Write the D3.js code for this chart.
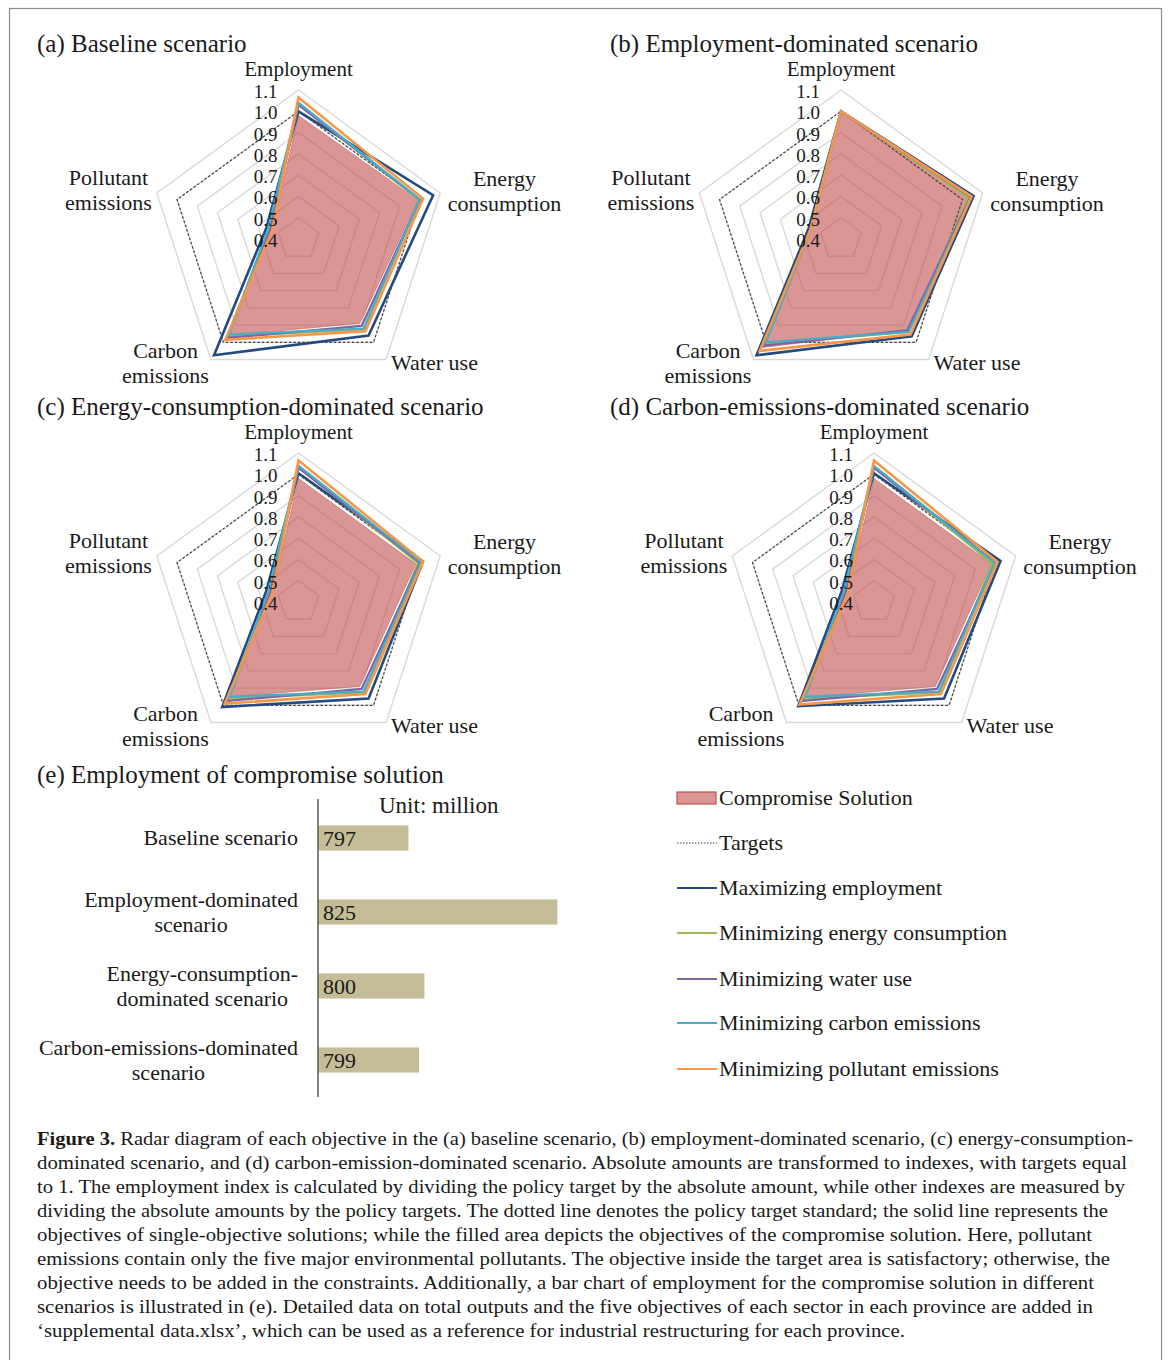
<!DOCTYPE html>
<html>
<head>
<meta charset="utf-8">
<script src="https://cdn.jsdelivr.net/npm/d3@7"></script>
<style>
  html, body { margin: 0; padding: 0; background: #fff; }
  svg { display: block; }
  text { font-family: "Liberation Serif", "Times New Roman", serif; fill: #1a1a1a; }
</style>
</head>
<body>
<svg id="fig" width="1171" height="1360"></svg>
<script>
// ---- Radar axes (clockwise from the top) ----
const axes = ["Employment", "Energy consumption", "Water use", "Carbon emissions", "Pollutant emissions"];
const radarTicks = [0.4, 0.5, 0.6, 0.7, 0.8, 0.9, 1.0, 1.1];

// ---- Series names ----
const seriesNames = ["Compromise Solution", "Targets", "Maximizing employment",
  "Minimizing energy consumption", "Minimizing water use",
  "Minimizing carbon emissions", "Minimizing pollutant emissions"];

// ---- Index values per scenario: [Employment, Energy, Water, Carbon, Pollutant] ----
const targets = [1, 1, 1, 1, 1];

const baselineCompromise  = [0.98, 0.99, 0.89, 0.96, 0.53];
const baselineMaxEmp      = [1.00, 1.065, 0.96, 1.075, 0.56];
const baselineMinEnergy   = [1.035, 0.995, 0.925, 0.965, 0.54];
const baselineMinWater    = [1.03, 1.00, 0.905, 0.975, 0.54];
const baselineMinCarbon   = [1.04, 1.00, 0.92, 0.955, 0.55];
const baselineMinPollut   = [1.065, 1.015, 0.935, 0.985, 0.53];

const empDomCompromise    = [1.00, 1.04, 0.93, 1.03, 0.55];
const empDomMaxEmp        = [1.00, 1.055, 0.965, 1.075, 0.56];
const empDomMinEnergy     = [1.00, 1.03, 0.94, 1.01, 0.55];
const empDomMinWater      = [1.00, 1.04, 0.93, 1.02, 0.55];
const empDomMinCarbon     = [1.00, 1.045, 0.94, 1.00, 0.55];
const empDomMinPollut     = [1.00, 1.045, 0.955, 1.05, 0.55];

const energyDomCompromise = [0.98, 0.98, 0.89, 0.95, 0.53];
const energyDomMaxEmp     = [1.005, 1.015, 0.96, 1.01, 0.56];
const energyDomMinEnergy  = [1.035, 0.99, 0.925, 0.96, 0.54];
const energyDomMinWater   = [1.03, 1.00, 0.905, 0.975, 0.54];
const energyDomMinCarbon  = [1.04, 1.005, 0.92, 0.95, 0.55];
const energyDomMinPollut  = [1.065, 1.015, 0.935, 0.99, 0.53];

const carbonDomCompromise = [0.98, 0.98, 0.89, 0.955, 0.53];
const carbonDomMaxEmp     = [1.005, 1.025, 0.96, 1.005, 0.56];
const carbonDomMinEnergy  = [1.035, 0.985, 0.925, 0.96, 0.54];
const carbonDomMinWater   = [1.03, 1.00, 0.905, 0.975, 0.54];
const carbonDomMinCarbon  = [1.04, 0.995, 0.92, 0.95, 0.55];
const carbonDomMinPollut  = [1.065, 1.01, 0.935, 0.995, 0.53];

const panelTitles = ["(a) Baseline scenario", "(b) Employment-dominated scenario",
  "(c) Energy-consumption-dominated scenario", "(d) Carbon-emissions-dominated  scenario"];

// ---- Bar chart (e) ----
const barCategories = ["Baseline scenario", "Employment-dominated scenario",
  "Energy-consumption-dominated scenario", "Carbon-emissions-dominated scenario"];
const barLabelLines = [["Baseline scenario"], ["Employment-dominated", "scenario"],
  ["Energy-consumption-", "dominated scenario"], ["Carbon-emissions-dominated", "scenario"]];
const barValues = [797, 825, 800, 799];
const barDomain = [780, 830];

// ---- Caption ----
const captionLines = [
  "Radar diagram of each objective in the (a) baseline scenario, (b) employment-dominated scenario, (c) energy-consumption-",
  "dominated scenario, and (d) carbon-emission-dominated scenario. Absolute amounts are transformed to indexes, with targets equal",
  "to 1. The employment index is calculated by dividing the policy target by the absolute amount, while other indexes are measured by",
  "dividing the absolute amounts by the policy targets. The dotted line denotes the policy target standard; the solid line represents the",
  "objectives of single-objective solutions; while the filled area depicts the objectives of the compromise solution. Here, pollutant",
  "emissions contain only the five major environmental pollutants. The objective inside the target area is satisfactory; otherwise, the",
  "objective needs to be added in the constraints. Additionally, a bar chart of employment for the compromise solution in different",
  "scenarios is illustrated in (e). Detailed data on total outputs and the five objectives of each sector in each province are added in",
  "\u2018supplemental data.xlsx\u2019, which can be used as a reference for industrial restructuring for each province."
];

// ================= drawing =================
const svg = d3.select("#fig");
const colors = {
  fill: "#C0504D", target: "#404040", maxEmp: "#254A80", minEnergy: "#9BBB59",
  minWater: "#8064A2", minCarbon: "#4BACC6", minPollut: "#F79646"
};

// outer frame
svg.append("rect").attr("x", 9.5).attr("y", 8.5).attr("width", 1152).attr("height", 1360)
  .attr("fill", "none").attr("stroke", "#8c8c8c").attr("stroke-width", 1.2);

const panels = [
  { cx: 298.5, cy: 239, title: panelTitles[0], tx: 37, ty: 51.5,
    data: [baselineCompromise, targets, baselineMaxEmp, baselineMinEnergy, baselineMinWater, baselineMinCarbon, baselineMinPollut] },
  { cx: 841, cy: 239, title: panelTitles[1], tx: 610, ty: 51.5,
    data: [empDomCompromise, targets, empDomMaxEmp, empDomMinEnergy, empDomMinWater, empDomMinCarbon, empDomMinPollut] },
  { cx: 298.5, cy: 602, title: panelTitles[2], tx: 37, ty: 414.5,
    data: [energyDomCompromise, targets, energyDomMaxEmp, energyDomMinEnergy, energyDomMinWater, energyDomMinCarbon, energyDomMinPollut] },
  { cx: 874, cy: 602, title: panelTitles[3], tx: 610, ty: 414.5,
    data: [carbonDomCompromise, targets, carbonDomMaxEmp, carbonDomMinEnergy, carbonDomMinWater, carbonDomMinCarbon, carbonDomMinPollut] }
];

const R = 149;
const rScale = d3.scaleLinear().domain([0.4, 1.1]).range([0, R]);
const angle = d3.scaleLinear().domain([0, axes.length]).range([0, 2 * Math.PI]);
const radial = d3.lineRadial()
  .angle((d, i) => angle(i))
  .radius(d => rScale(d))
  .curve(d3.curveLinearClosed);

const lineStyles = [
  null,
  { color: colors.target, width: 1.2, dash: "2.5,2" },
  { color: colors.maxEmp, width: 2.6 },
  { color: colors.minEnergy, width: 2.3 },
  { color: colors.minWater, width: 2.3 },
  { color: colors.minCarbon, width: 2.3 },
  { color: colors.minPollut, width: 2.6 }
];

// axis label placement relative to the centre (line baselines)
const axisLabelPos = [
  { dx: 0, dy: -163, size: 21, lines: ["Employment"] },
  { dx: 206, dy: -53, size: 22, lines: ["Energy", "consumption"] },
  { dx: 136, dy: 131, size: 22, lines: ["Water use"] },
  { dx: -133, dy: 119, size: 22, lines: ["Carbon", "emissions"] },
  { dx: -190, dy: -54, size: 22, lines: ["Pollutant", "emissions"] }
];

panels.forEach(p => {
  svg.append("text").attr("x", p.tx).attr("y", p.ty)
    .style("font-size", "25px").text(p.title);

  const g = svg.append("g").attr("transform", `translate(${p.cx},${p.cy})`);

  // grid pentagons
  g.selectAll("path.grid").data(radarTicks.slice(1)).join("path")
    .attr("class", "grid")
    .attr("d", v => radial(axes.map(() => v)))
    .attr("fill", "none").attr("stroke", "#d9d9d9").attr("stroke-width", 1.4);

  // compromise solution area
  g.append("path").attr("d", radial(p.data[0]))
    .attr("fill", colors.fill).attr("fill-opacity", 0.6)
    .attr("stroke", colors.fill).attr("stroke-opacity", 0.5).attr("stroke-width", 1);

  // targets and single-objective lines
  p.data.slice(1).forEach((vals, k) => {
    const st = lineStyles[k + 1];
    g.append("path").attr("d", radial(vals))
      .attr("fill", "none").attr("stroke", st.color)
      .attr("stroke-width", st.width)
      .attr("stroke-dasharray", st.dash || null)
      .attr("stroke-linejoin", "miter");
  });

  // value axis labels along the employment spoke
  g.selectAll("text.tick").data(radarTicks).join("text")
    .attr("class", "tick")
    .attr("x", -21).attr("y", v => -rScale(v) + 8)
    .attr("text-anchor", "end")
    .style("font-size", "19px")
    .text(v => d3.format(".1f")(v));

  // category labels
  axisLabelPos.forEach(a => {
    const t = g.append("text").attr("text-anchor", "middle").style("font-size", a.size + "px");
    a.lines.forEach((ln, j) => {
      t.append("tspan").attr("x", a.dx).attr("y", a.dy + j * 24.5).text(ln);
    });
  });
});

// ---------- (e) bar chart ----------
svg.append("text").attr("x", 37).attr("y", 783).style("font-size", "25px")
  .text("(e) Employment of compromise solution");

const xBar = d3.scaleLinear().domain(barDomain).range([318, 584]);
const yBar = d3.scaleBand().domain(barCategories).range([801, 1097])
  .paddingInner(0.66).paddingOuter(0.33);

svg.selectAll("rect.bar").data(barValues).join("rect")
  .attr("class", "bar")
  .attr("x", xBar(barDomain[0]))
  .attr("y", (d, i) => yBar(barCategories[i]))
  .attr("width", d => xBar(d) - xBar(barDomain[0]))
  .attr("height", yBar.bandwidth())
  .attr("fill", "#C4BD97");

svg.append("line").attr("x1", 318).attr("x2", 318).attr("y1", 799).attr("y2", 1097)
  .attr("stroke", "#595959").attr("stroke-width", 1.5);

svg.selectAll("text.barval").data(barValues).join("text")
  .attr("class", "barval")
  .attr("x", xBar(barDomain[0]) + 5)
  .attr("y", (d, i) => yBar(barCategories[i]) + yBar.bandwidth() / 2 + 8)
  .style("font-size", "22px")
  .text(d => d);

svg.append("text").attr("x", 379).attr("y", 813).style("font-size", "23px").text("Unit: million");

barLabelLines.forEach((lines, i) => {
  const cyBand = yBar(barCategories[i]) + yBar.bandwidth() / 2;
  const t = svg.append("text").attr("text-anchor", "middle").style("font-size", "22px");
  const top = cyBand - (lines.length - 1) * 12.5 + 7;
  const spans = lines.map((ln, j) => t.append("tspan").attr("y", top + j * 25).text(ln));
  const w = d3.max(spans, s => s.node().getComputedTextLength());
  spans.forEach(s => s.attr("x", 298 - w / 2));
});

// ---------- legend ----------
const legendRows = [798, 843, 888, 933, 979, 1023, 1069];
const legendKeys = [null, colors.target, colors.maxEmp, colors.minEnergy, colors.minWater, colors.minCarbon, colors.minPollut];
seriesNames.forEach((name, i) => {
  const y = legendRows[i];
  if (i === 0) {
    svg.append("rect").attr("x", 677).attr("y", y - 6).attr("width", 39).attr("height", 12)
      .attr("fill", colors.fill).attr("fill-opacity", 0.6)
      .attr("stroke", colors.fill).attr("stroke-width", 1.2);
  } else {
    svg.append("line").attr("x1", 677).attr("x2", 717).attr("y1", y).attr("y2", y)
      .attr("stroke", legendKeys[i])
      .attr("stroke-width", i === 1 ? 1.1 : 2)
      .attr("stroke-dasharray", i === 1 ? "1.5,1.5" : null);
  }
  svg.append("text").attr("x", 719).attr("y", y + 7).style("font-size", "22px").text(name);
});

// ---------- caption ----------
const captionEnds = [1133, 1127, 1125, 1108, 1092, 1110, 1094, 1093, 905];
captionLines.forEach((ln, i) => {
  const t = svg.append("text").attr("x", 37).attr("y", 1145 + i * 24)
    .style("font-size", "18.5px")
    .attr("textLength", captionEnds[i] - 37)
    .attr("lengthAdjust", "spacingAndGlyphs");
  if (i === 0) {
    t.append("tspan").style("font-weight", "bold").text("Figure 3. ");
  }
  t.append("tspan").text(ln);
});
</script>
</body>
</html>
